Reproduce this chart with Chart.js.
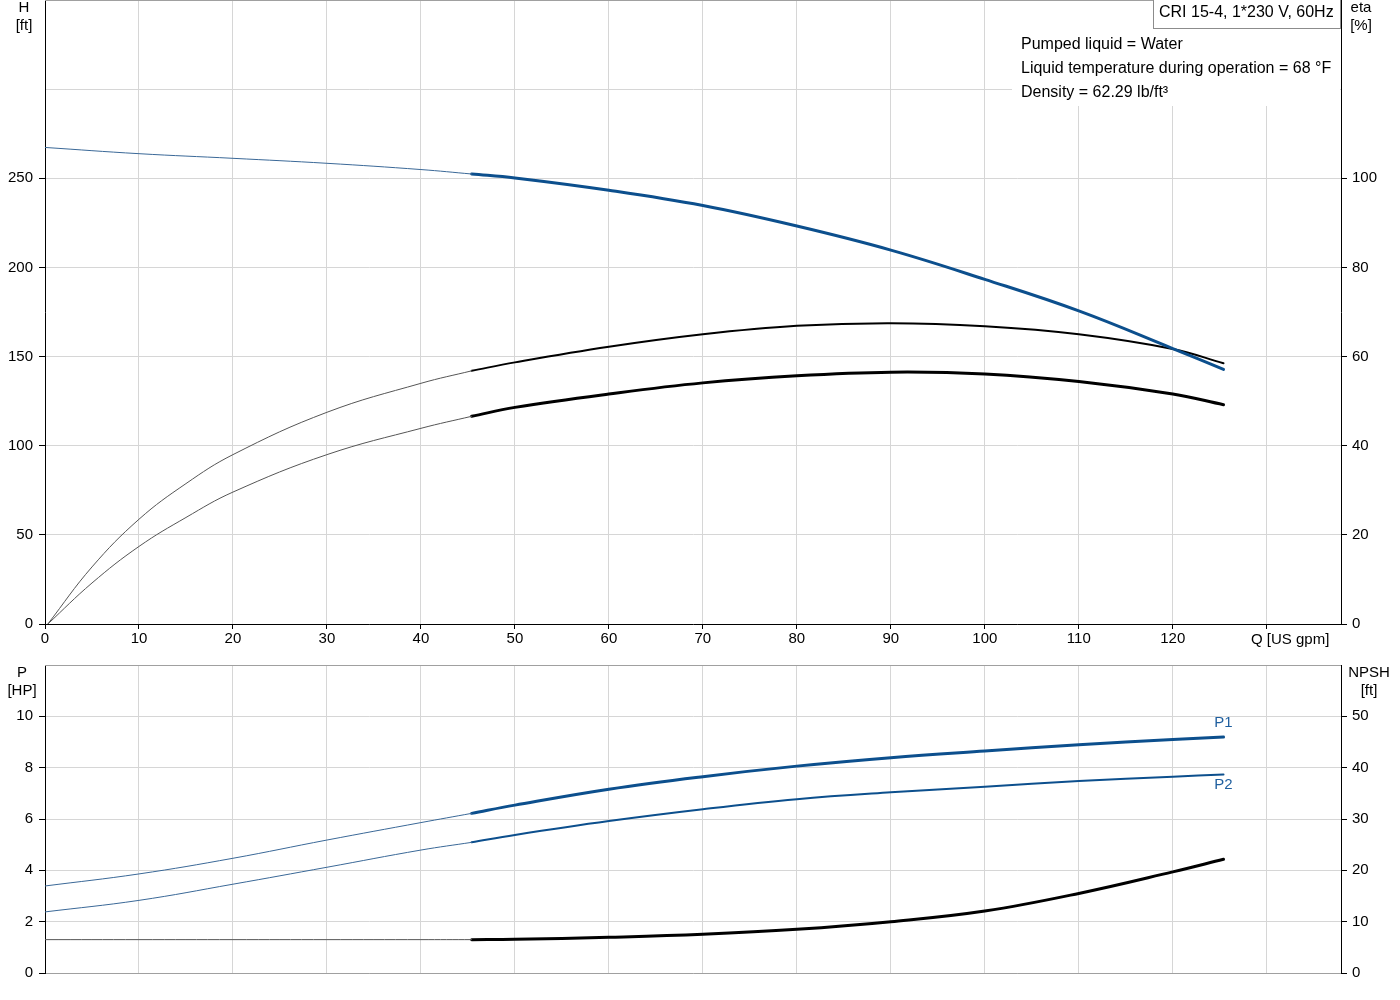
<!DOCTYPE html>
<html>
<head>
<meta charset="utf-8">
<script src="https://cdn.jsdelivr.net/npm/chart.js@4.4.0/dist/chart.umd.min.js"></script>
<style>
body { margin: 0; background: #fff; }
#wrap { position: relative; width: 1400px; height: 1000px; font-family: "Liberation Sans", Arial, sans-serif; color: #000; }
canvas { position: absolute; left: 0; }
.lbl { position: absolute; font-size: 15px; line-height: 18px; text-align: center; white-space: nowrap; }
#info { position: absolute; left: 1012px; top: 1px; width: 328px; height: 105px; background: #fff; }
#title { position: absolute; left: 1153px; top: -1px; width: 181px; height: 29px; border: 1px solid #8c8c8c; border-top: none; padding-left: 5px; font-size: 16px; line-height: 25px; background: #fff; white-space: nowrap; }
#liquid { position: absolute; left: 1021px; top: 32px; font-size: 16px; line-height: 24px; white-space: nowrap; }
</style>
</head>
<body>
<div id="wrap">
  <canvas id="curveTop" width="1400" height="655" style="top:0"></canvas>
  <canvas id="curveBot" width="1400" height="345" style="top:655px"></canvas>

  <div id="info"></div>
  <div id="title">CRI 15-4, 1*230 V, 60Hz</div>
  <div id="liquid">Pumped liquid = Water<br>Liquid temperature during operation = 68 °F<br>Density = 62.29 lb/ft³</div>

  <div class="lbl" style="left:4px;top:-2px;width:40px">H<br>[ft]</div>
  <div class="lbl" style="left:1341px;top:-2px;width:40px">eta<br>[%]</div>
  <div class="lbl" style="left:1251px;top:630px;text-align:left">Q [US gpm]</div>
  <div class="lbl" style="left:2px;top:663px;width:40px">P<br>[HP]</div>
  <div class="lbl" style="left:1344px;top:663px;width:50px">NPSH<br>[ft]</div>
</div>

<script>
// 流量 Q [US gpm]
var qLow = [0, 10, 20, 30, 40, 45.4];
var qHigh = [45.4, 50, 60, 70, 80, 90, 100, 110, 120, 125.4];
var qEtaLow = [0.3, 5, 10, 15, 20, 30, 40, 45.4];

// 揚程 H [ft]
var headLow = [267.3, 263.8, 261.2, 258.4, 254.9, 252.4];
var headHigh = [252.4, 250.2, 243.3, 234.7, 223.2, 209.7, 193.3, 175.6, 154.5, 142.8];

// 効率 eta [%]
var etaLow = [0, 12.8, 23.5, 31.5, 38.0, 47.5, 54.0, 56.8];
var etaHigh = [56.8, 58.7, 62.2, 65.0, 66.9, 67.5, 66.8, 65.0, 61.7, 58.5];
var etaTotLow = [0, 9.2, 17.4, 23.9, 29.6, 38.0, 43.9, 46.6];
var etaTotHigh = [46.6, 48.6, 51.6, 54.1, 55.7, 56.5, 56.1, 54.4, 51.6, 49.2];

// 動力 P [HP]
var p1Low = [3.39, 3.86, 4.47, 5.18, 5.86, 6.22];
var p1High = [6.22, 6.54, 7.16, 7.65, 8.06, 8.39, 8.65, 8.89, 9.10, 9.19];
var p2Low = [2.38, 2.83, 3.46, 4.12, 4.79, 5.09];
var p2High = [5.09, 5.38, 5.92, 6.38, 6.77, 7.04, 7.26, 7.48, 7.65, 7.73];

// NPSH [ft]
var npshLow = [6.5, 6.5, 6.5, 6.5, 6.5, 6.5];
var npshHigh = [6.5, 6.56, 6.95, 7.53, 8.5, 10.0, 12.08, 15.5, 19.7, 22.15];

var BLUE = '#0c4f8d';
var BLUE_THIN = '#3a6897';
var GRID = '#d6d6d6';

Chart.defaults.font.family = '"Liberation Sans", Arial, sans-serif';
Chart.defaults.font.size = 15;
Chart.defaults.color = '#000';

function pts(q, v) {
    return q.map(function (x, i) { return { x: x, y: v[i] }; });
}

function line(q, v, axis, color, width) {
    return {
        data: pts(q, v),
        yAxisID: axis,
        borderColor: color,
        borderWidth: width,
        pointRadius: 0,
        fill: false,
        tension: 0.4,
        borderCapStyle: 'round'
    };
}

// 軸の幅を固定
function fixSize(w, h) {
    return function (s) {
        if (w !== null) s.width = w;
        if (h !== null) s.height = h;
        s.paddingTop = 0; s.paddingBottom = 0;
        s.paddingLeft = 0; s.paddingRight = 0;
    };
}

function hideAbove(limit) {
    return function (ctx) {
        return ctx.tick && ctx.tick.value > limit ? 'rgba(0,0,0,0)' : '#000';
    };
}

// 上端の枠線
var frame = {
    id: 'frame',
    afterDraw: function (chart) {
        var a = chart.chartArea, c = chart.ctx;
        c.save();
        c.strokeStyle = '#a0a0a0';
        c.lineWidth = 1;
        c.beginPath();
        c.moveTo(a.left, a.top + 0.5);
        c.lineTo(a.right, a.top + 0.5);
        c.stroke();
        c.restore();
    }
};

// P1 / P2 ラベル
var powerLabels = {
    id: 'powerLabels',
    afterDatasetsDraw: function (chart) {
        var c = chart.ctx;
        var e1 = chart.getDatasetMeta(1).data.slice(-1)[0];
        var e2 = chart.getDatasetMeta(3).data.slice(-1)[0];
        c.save();
        c.fillStyle = '#1f5f9f';
        c.font = '15px "Liberation Sans", Arial, sans-serif';
        c.textAlign = 'center';
        c.textBaseline = 'middle';
        c.fillText('P1', e1.x, e1.y - 14);
        c.fillText('P2', e2.x, e2.y + 10);
        c.restore();
    }
};

var xCommon = {
    type: 'linear',
    min: 0,
    max: 137.9,
    ticks: { stepSize: 10, includeBounds: false },
    grid: { color: GRID }
};

new Chart(document.getElementById('curveTop'), {
    type: 'line',
    data: {
        datasets: [
            line(qLow, headLow, 'yH', BLUE_THIN, 1),
            line(qHigh, headHigh, 'yH', BLUE, 3),
            line(qEtaLow, etaLow, 'yEta', '#555', 1),
            line(qHigh, etaHigh, 'yEta', '#000', 2),
            line(qEtaLow, etaTotLow, 'yEta', '#555', 1),
            line(qHigh, etaTotHigh, 'yEta', '#000', 3)
        ]
    },
    options: {
        responsive: false,
        animation: false,
        devicePixelRatio: 1,
        layout: { padding: 0 },
        plugins: { legend: { display: false }, tooltip: { enabled: false } },
        scales: {
            x: Object.assign({}, xCommon, {
                position: 'bottom',
                ticks: {
                    stepSize: 10, includeBounds: false, padding: 1, maxRotation: 0,
                    callback: function (v) { return v === 130 ? '' : v; }
                },
                grid: { color: GRID, tickColor: '#000', tickLength: 5 },
                border: { color: '#000' },
                afterFit: fixSize(null, 31)
            }),
            yH: {
                position: 'left',
                min: 0, max: 350,
                ticks: { stepSize: 50, padding: 6, callback: function (v) { return v > 250 ? '' : v; } },
                grid: { color: GRID, tickColor: hideAbove(250), tickLength: 6 },
                border: { color: '#000' },
                afterFit: fixSize(45, null)
            },
            yEta: {
                position: 'right',
                min: 0, max: 140,
                ticks: { stepSize: 20, padding: 5, callback: function (v) { return v > 100 ? '' : v; } },
                grid: { drawOnChartArea: false, tickColor: hideAbove(100), tickLength: 6 },
                border: { color: '#000' },
                afterFit: fixSize(59, null)
            }
        }
    },
    plugins: [frame]
});

new Chart(document.getElementById('curveBot'), {
    type: 'line',
    data: {
        datasets: [
            line(qLow, p1Low, 'yP', BLUE_THIN, 1),
            line(qHigh, p1High, 'yP', BLUE, 3),
            line(qLow, p2Low, 'yP', BLUE_THIN, 1),
            line(qHigh, p2High, 'yP', BLUE, 2),
            line(qLow, npshLow, 'yN', '#555', 1),
            line(qHigh, npshHigh, 'yN', '#000', 3)
        ]
    },
    options: {
        responsive: false,
        animation: false,
        devicePixelRatio: 1,
        layout: { padding: { top: 10, left: 0, right: 0, bottom: 0 } },
        plugins: { legend: { display: false }, tooltip: { enabled: false } },
        scales: {
            x: Object.assign({}, xCommon, {
                position: 'bottom',
                ticks: { stepSize: 10, includeBounds: false, display: false },
                grid: { color: GRID, drawTicks: false },
                border: { color: '#a0a0a0' },
                afterFit: fixSize(null, 27)
            }),
            yP: {
                position: 'left',
                min: 0, max: 12,
                ticks: { stepSize: 2, padding: 6, callback: function (v) { return v > 10 ? '' : v; } },
                grid: { color: GRID, tickColor: hideAbove(10), tickLength: 6 },
                border: { color: '#000' },
                afterFit: fixSize(45, null)
            },
            yN: {
                position: 'right',
                min: 0, max: 60,
                ticks: { stepSize: 10, padding: 5, callback: function (v) { return v > 50 ? '' : v; } },
                grid: { drawOnChartArea: false, tickColor: hideAbove(50), tickLength: 6 },
                border: { color: '#000' },
                afterFit: fixSize(59, null)
            }
        }
    },
    plugins: [frame, powerLabels]
});
</script>
</body>
</html>
